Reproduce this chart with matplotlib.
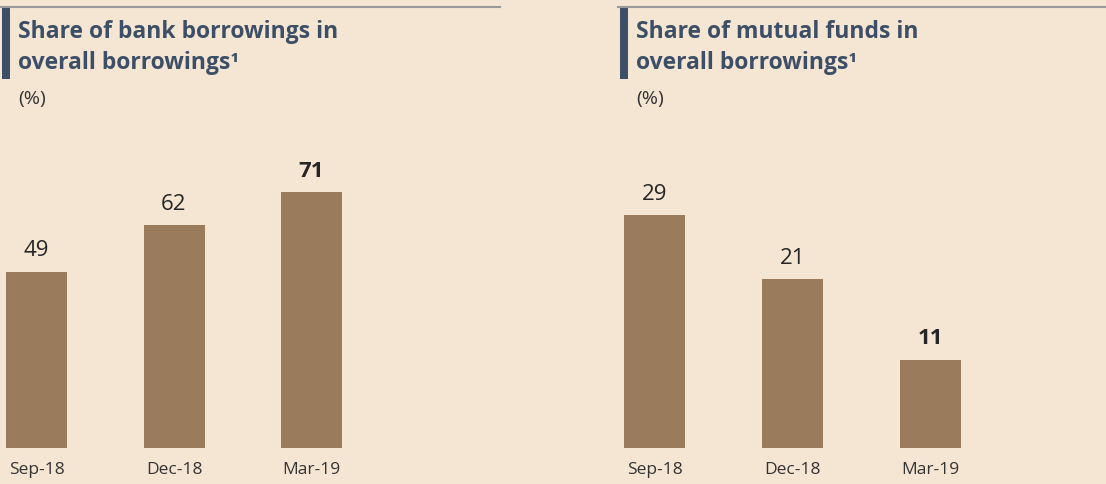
import matplotlib.pyplot as plt

# data
dates = ["Sep-18", "Dec-18", "Mar-19"]
bank_share = [49, 62, 71]
mf_share = [29, 21, 11]

bg = "#F5E6D3"
bar_col = "#9A7B5C"
title_col = "#3D4F66"
text_col = "#262626"

plt.rcParams['font.family'] = ['Open Sans', 'DejaVu Sans']

W, H = 1106, 484
fig = plt.figure(figsize=(W / 100, H / 100), dpi=100)
fig.patch.set_facecolor(bg)


def px(x, y):
    # pixel position (from top left) -> figure fraction
    return x / W, 1 - y / H


def panel(left_px, first_center_px, step_px, px_per_unit, values):
    bottom_px = 448
    height_px = 318
    width_px = 400
    ax = fig.add_axes([left_px / W, (H - bottom_px) / H, width_px / W, height_px / H])
    ax.set_facecolor("none")
    x = list(range(len(values)))
    ax.bar(x, values, width=61 / step_px, color=bar_col)
    lo = (left_px - first_center_px) / step_px
    ax.set_xlim(lo, lo + width_px / step_px)
    ax.set_ylim(0, height_px / px_per_unit)
    for i, v in enumerate(values):
        bold = i == len(values) - 1
        ax.annotate(str(v), (i, v), xytext=(0, 11), textcoords="offset points",
                    ha="center", va="baseline", fontsize=16, color=text_col,
                    fontweight="bold" if bold else "normal")
    ax.set_xticks(x)
    ax.set_xticklabels(dates, fontsize=12.5, color="#333333")
    ax.tick_params(axis="x", length=0, pad=10)
    ax.set_yticks([])
    for s in ax.spines.values():
        s.set_visible(False)
    return ax


def header(x0, x1, title_lines):
    # gray rule on top and dark accent bar at left
    fig.add_artist(plt.Line2D([px(x0, 7)[0], px(x1, 7)[0]], [px(0, 7)[1]] * 2,
                              color="#9A9A9A", lw=1.5))
    fig.add_artist(plt.Rectangle(px(x0 + 2, 79), 8 / W, 72 / H,
                                 color=title_col, lw=0))
    tx = x0 + 18
    fig.text(*px(tx, 32), title_lines[0], fontsize=16.5, fontweight="bold",
             color=title_col, va="center")
    fig.text(*px(tx, 63), title_lines[1], fontsize=16.5, fontweight="bold",
             color=title_col, va="center")
    fig.text(*px(tx, 99), "(%)", fontsize=14, color="#333333", va="center")


panel(0, 36.5, 137.5, 3.6, bank_share)
panel(600, 654.5, 138, 8.04, mf_share)

header(0, 500, ["Share of bank borrowings in", "overall borrowings\u00b9"])
header(618, 1106, ["Share of mutual funds in", "overall borrowings\u00b9"])

fig.savefig("out.png", dpi=100, facecolor=bg)
